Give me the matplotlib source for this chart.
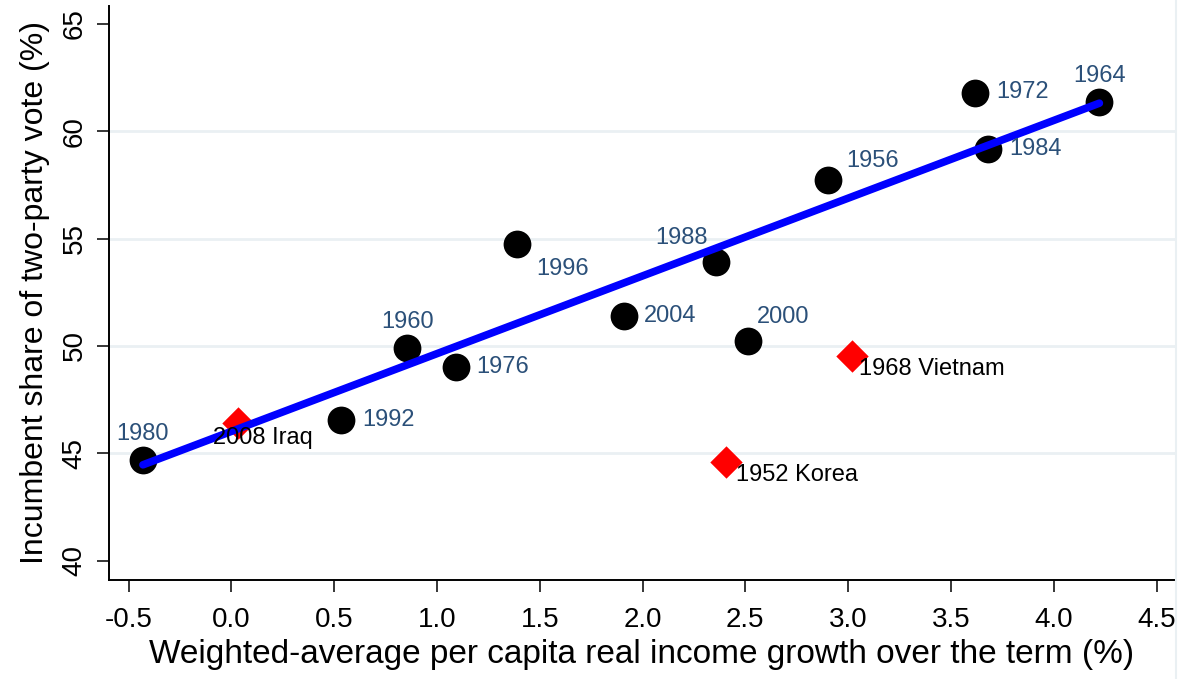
import numpy as np
import matplotlib.pyplot as plt
from matplotlib.lines import Line2D

plt.rcParams['font.family'] = ['Liberation Sans', 'DejaVu Sans']

# peace-time elections
years = ['1980', '1992', '1960', '1976', '1996', '2004', '2000', '1988',
         '1956', '1972', '1984', '1964']
growth = [-0.43, 0.534, 0.855, 1.093, 1.391, 1.908, 2.511, 2.359,
          2.903, 3.619, 3.679, 4.222]
vote = [44.7, 46.55, 49.9, 49.02, 54.75, 51.39, 50.24, 53.91,
        57.73, 61.77, 59.16, 61.35]
# label offsets in pixels (dx, dy up) and alignment
lab_off = [(0, 26, 'center'), (21, 0, 'left'), (0, 26, 'center'), (20, 0, 'left'),
           (19, -25, 'left'), (20, 0, 'left'), (9, 24, 'left'), (-9, 24, 'right'),
           (18, 19, 'left'), (21, 1, 'left'), (22, 0, 'left'), (0, 26, 'center')]

# war-time elections
war_names = ['2008 Iraq', '1968 Vietnam', '1952 Korea']
war_growth = [0.031, 3.017, 2.404]
war_vote = [46.40, 49.55, 44.58]
war_off = [(-25, -15), (7, -13), (10, -13)]

# fitted line
intercept = 46.02
slope = 3.62

fig = plt.figure(figsize=(11.85, 6.79), dpi=100)
ax = fig.add_axes([0.092, 0.1458, 0.8996, 0.8454])

for yv in [45, 50, 55, 60]:
    ax.axhline(yv, color='#eaf0f3', lw=2, zorder=0)

ax.scatter(growth, vote, s=400, color='black', zorder=3, linewidths=0)
ax.scatter(war_growth, war_vote, s=272, marker='D', color='#ff0000', zorder=3, linewidths=0)

xf = np.array([min(growth), max(growth)])
ax.plot(xf, intercept + slope * xf, color='#0000ff', lw=5.5, zorder=4, solid_capstyle='round')

k = 0.72
for yr, x, y, (dx, dy, ha) in zip(years, growth, vote, lab_off):
    ax.annotate(yr, (x, y), xytext=(dx * k, dy * k), textcoords='offset points',
                ha=ha, va='center', fontsize=17, color='#2b5079', zorder=5)
for nm, x, y, (dx, dy) in zip(war_names, war_growth, war_vote, war_off):
    ax.annotate(nm, (x, y), xytext=(dx * k, dy * k), textcoords='offset points',
                ha='left', va='center', fontsize=17, color='black', zorder=5)

ax.set_xlim(-0.595, 4.59)
ax.set_ylim(39.1, 65.83)
ax.set_xticks(np.arange(-0.5, 4.51, 0.5))
ax.set_xticklabels([f'{v:.1f}' for v in np.arange(-0.5, 4.51, 0.5)])
ax.set_yticks([40, 45, 50, 55, 60, 65])
for lab in ax.get_yticklabels():
    lab.set_rotation(90)
    lab.set_va('center')

ax.tick_params(axis='both', labelsize=20, length=8.5, width=1.1, color='black')
ax.tick_params(axis='x', pad=11)
ax.tick_params(axis='y', pad=7)

ax.spines['right'].set_visible(False)
ax.spines['top'].set_visible(False)
ax.spines['left'].set_linewidth(1.4)
ax.spines['bottom'].set_linewidth(1.4)

ax.set_xlabel('Weighted-average per capita real income growth over the term (%)', fontsize=24, labelpad=4)
ax.set_ylabel('Incumbent share of two-party vote (%)', fontsize=23, labelpad=8)

fig.add_artist(Line2D([1176 / 1185, 1176 / 1185], [0, 1], color='#eaf0f3', lw=1.5))

fig.savefig('out.png', dpi=100)
